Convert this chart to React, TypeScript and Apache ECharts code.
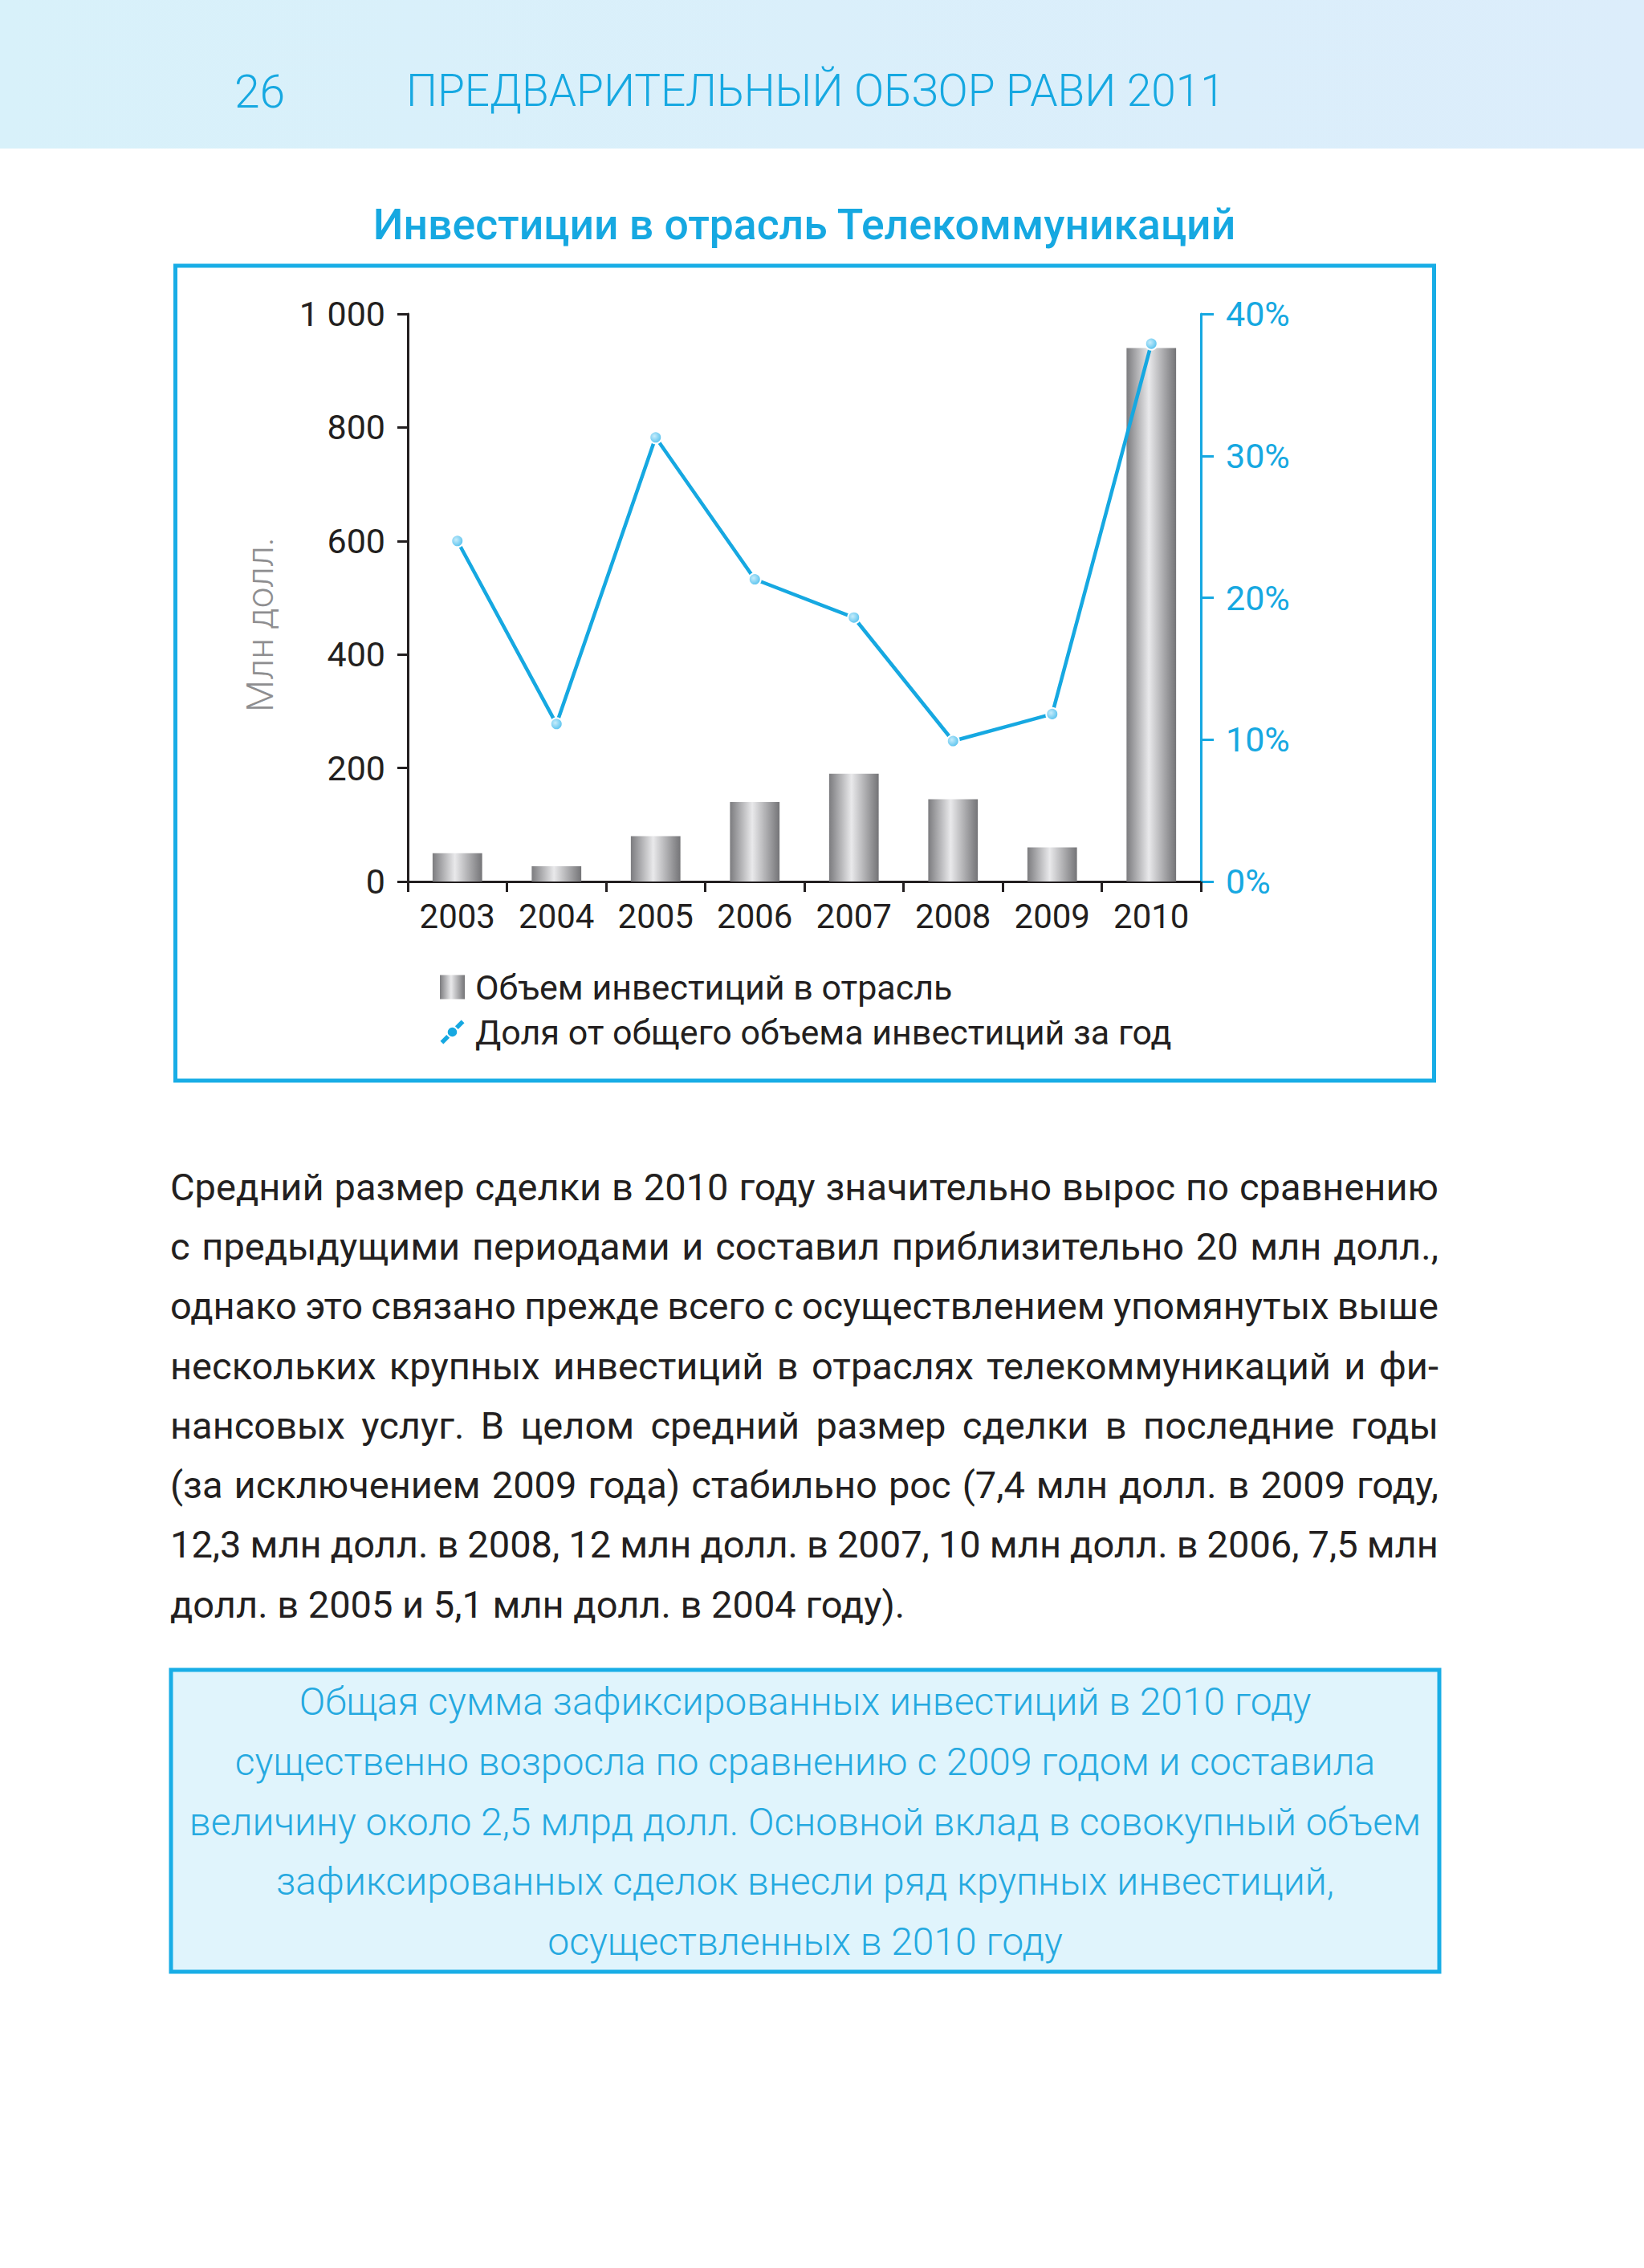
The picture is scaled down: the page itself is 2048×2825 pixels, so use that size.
import React, { useEffect, useRef } from 'react';
import * as echarts from 'echarts';

const years = ['2003', '2004', '2005', '2006', '2007', '2008', '2009', '2010'];
const investments = [50, 27, 80, 140, 190, 145, 60, 940];
const shares = [24.0, 11.1, 31.3, 21.3, 18.6, 9.9, 11.8, 37.9];
const leftTickLabels = ['0', '200', '400', '600', '800', '1 000'];
const rightTickLabels = ['0%', '10%', '20%', '30%', '40%'];
const seriesNames = ['Объем инвестиций в отрасль', 'Доля от общего объема инвестиций за год'];
const pageNumber = '26';
const headerTitle = 'ПРЕДВАРИТЕЛЬНЫЙ ОБЗОР РАВИ 2011';
const chartTitle = 'Инвестиции в отрасль Телекоммуникаций';
const yAxisName = 'Млн долл.';
const paragraphLines = [
  'Средний размер сделки в 2010 году значительно вырос по сравнению',
  'с предыдущими периодами и составил приблизительно 20 млн долл.,',
  'однако это связано прежде всего с осуществлением упомянутых выше',
  'нескольких крупных инвестиций в отраслях телекоммуникаций и фи-',
  'нансовых услуг. В целом средний размер сделки в последние годы',
  '(за исключением 2009 года) стабильно рос (7,4 млн долл. в 2009 году,',
  '12,3 млн долл. в 2008, 12 млн долл. в 2007, 10 млн долл. в 2006, 7,5 млн',
  'долл. в 2005 и 5,1 млн долл. в 2004 году).',
];
const calloutLines = [
  'Общая сумма зафиксированных инвестиций в 2010 году',
  'существенно возросла по сравнению с 2009 годом и составила',
  'величину около 2,5 млрд долл. Основной вклад в совокупный объем',
  'зафиксированных сделок внесли ряд крупных инвестиций,',
  'осуществленных в 2010 году',
];

const CYAN = '#16a8e1';
const DARK = '#231f20';
const FONT = 'Roboto';

function buildOption() {
  const barGradient = new echarts.graphic.LinearGradient(0, 0, 1, 0, [
    { offset: 0, color: '#7c7c7f' },
    { offset: 0.45, color: '#e9e9eb' },
    { offset: 1, color: '#747477' },
  ]);
  const markerGradient = new echarts.graphic.RadialGradient(0.4, 0.4, 0.7, [
    { offset: 0, color: '#c6ecfb' },
    { offset: 1, color: '#45bbec' },
  ]);

  const graphic: any[] = [
    {
      type: 'rect',
      shape: { x: 0, y: 0, width: 2048, height: 185 },
      style: {
        fill: new echarts.graphic.LinearGradient(0, 0, 1, 0, [
          { offset: 0, color: '#d8f1fa' },
          { offset: 1, color: '#dcedfb' },
        ]),
      },
      z: 0,
    },
    {
      type: 'text',
      x: 292,
      y: 114,
      style: { text: pageNumber, fontSize: 57, fontFamily: FONT, fontWeight: 300, fill: CYAN, align: 'left', verticalAlign: 'middle' },
    },
    {
      type: 'text',
      x: 506,
      y: 113,
      style: { text: headerTitle, fontSize: 55, fontFamily: FONT, fontWeight: 300, fill: CYAN, align: 'left', verticalAlign: 'middle' },
    },
    {
      type: 'text',
      x: 1002,
      y: 279,
      style: { text: chartTitle, fontSize: 53.5, fontFamily: FONT, fontWeight: 500, fill: CYAN, align: 'center', verticalAlign: 'middle' },
    },
    {
      type: 'rect',
      shape: { x: 218.5, y: 331, width: 1568, height: 1015 },
      style: { fill: 'none', stroke: '#18ade6', lineWidth: 5 },
    },
    {
      type: 'text',
      x: 324,
      y: 778,
      rotation: Math.PI / 2,
      style: { text: yAxisName, fontSize: 46, fontFamily: FONT, fontWeight: 300, fill: '#8e8e90', align: 'center', verticalAlign: 'middle' },
    },
    {
      type: 'rect',
      shape: { x: 213, y: 2080, width: 1580, height: 376 },
      style: { fill: '#e0f4fc', stroke: '#18ade6', lineWidth: 5 },
    },
  ];
  calloutLines.forEach((line, i) => {
    graphic.push({
      type: 'text',
      x: 1003,
      y: 2119.5 + i * 74.8,
      style: { text: line, fontSize: 48, fontFamily: FONT, fontWeight: 300, fill: '#25a9e0', align: 'center', verticalAlign: 'middle' },
    });
  });

  return {
    animation: false,
    textStyle: { fontFamily: FONT },
    graphic,
    grid: { left: 508, top: 391, width: 988, height: 707 },
    legend: {
      orient: 'vertical',
      left: 543,
      top: 1203,
      itemWidth: 31,
      itemHeight: 30,
      itemGap: 13,
      selectedMode: false,
      textStyle: { fontSize: 43, lineHeight: 43, color: DARK, fontFamily: FONT, padding: [0, 0, 0, 8] },
      data: [
        { name: seriesNames[0], icon: 'rect' },
        {
          name: seriesNames[1],
          icon:
            'path://M0,27 L8,19 L12,23 L4,31 Z M19,8 L27,0 L31,4 L23,12 Z M21.5,15.5 A6,6 0 1 1 9.5,15.5 A6,6 0 1 1 21.5,15.5 Z',
          itemStyle: { color: CYAN, borderWidth: 0 },
        },
      ],
    },
    xAxis: {
      type: 'category',
      data: years,
      boundaryGap: true,
      axisLine: { show: true, lineStyle: { color: DARK, width: 3 } },
      axisTick: { show: true, length: 13, alignWithLabel: false, lineStyle: { color: DARK, width: 3 } },
      axisLabel: { fontSize: 42, color: DARK, margin: 22, fontFamily: FONT },
      splitLine: { show: false },
    },
    yAxis: [
      {
        type: 'value',
        min: 0,
        max: 1000,
        interval: 200,
        position: 'left',
        axisLine: { show: true, lineStyle: { color: DARK, width: 3 } },
        axisTick: { show: true, length: 13, lineStyle: { color: DARK, width: 3 } },
        axisLabel: {
          fontSize: 43,
          color: DARK,
          margin: 28,
          fontFamily: FONT,
          formatter: (v: number) => leftTickLabels[Math.round(v / 200)],
        },
        splitLine: { show: false },
      },
      {
        type: 'value',
        min: 0,
        max: 40,
        interval: 10,
        position: 'right',
        axisLine: { show: true, lineStyle: { color: CYAN, width: 3 } },
        axisTick: { show: true, length: 16, lineStyle: { color: CYAN, width: 3 } },
        axisLabel: {
          fontSize: 43,
          color: CYAN,
          margin: 31,
          fontFamily: FONT,
          formatter: (v: number) => rightTickLabels[Math.round(v / 10)],
        },
        splitLine: { show: false },
      },
    ],
    series: [
      {
        name: seriesNames[0],
        type: 'bar',
        yAxisIndex: 0,
        data: investments,
        barWidth: '50%',
        itemStyle: { color: barGradient },
        z: 2,
      },
      {
        name: seriesNames[1],
        type: 'line',
        yAxisIndex: 1,
        data: shares,
        symbol: 'circle',
        symbolSize: 15,
        lineStyle: { color: CYAN, width: 4.5 },
        itemStyle: { color: markerGradient, borderColor: '#ffffff', borderWidth: 2 },
        z: 5,
      },
    ],
  };
}

export default function App() {
  const ref = useRef<HTMLDivElement>(null);
  useEffect(() => {
    if (!ref.current) return;
    const chart = echarts.init(ref.current, null, { renderer: 'svg' });
    chart.setOption(buildOption() as any);
    return () => chart.dispose();
  }, []);
  const last = paragraphLines.length - 1;
  return (
    <div style={{ position: 'absolute', left: 0, top: 0, width: 2048, height: 2825, background: '#ffffff', overflow: 'hidden' }}>
      <div ref={ref} style={{ position: 'absolute', left: 0, top: 0, width: 2048, height: 2825 }} />
      {paragraphLines.map((line, i) => (
        <div
          key={i}
          style={{
            position: 'absolute',
            left: 212,
            width: 1580,
            top: 1477.5 + i * 74.3 - 22.9,
            fontFamily: FONT,
            fontSize: 47,
            lineHeight: '47px',
            color: DARK,
            whiteSpace: 'nowrap',
            display: i === last ? 'block' : 'flex',
            justifyContent: 'space-between',
          }}
        >
          {i === last ? line : line.split(' ').map((w, k) => <span key={k}>{w}</span>)}
        </div>
      ))}
    </div>
  );
}
